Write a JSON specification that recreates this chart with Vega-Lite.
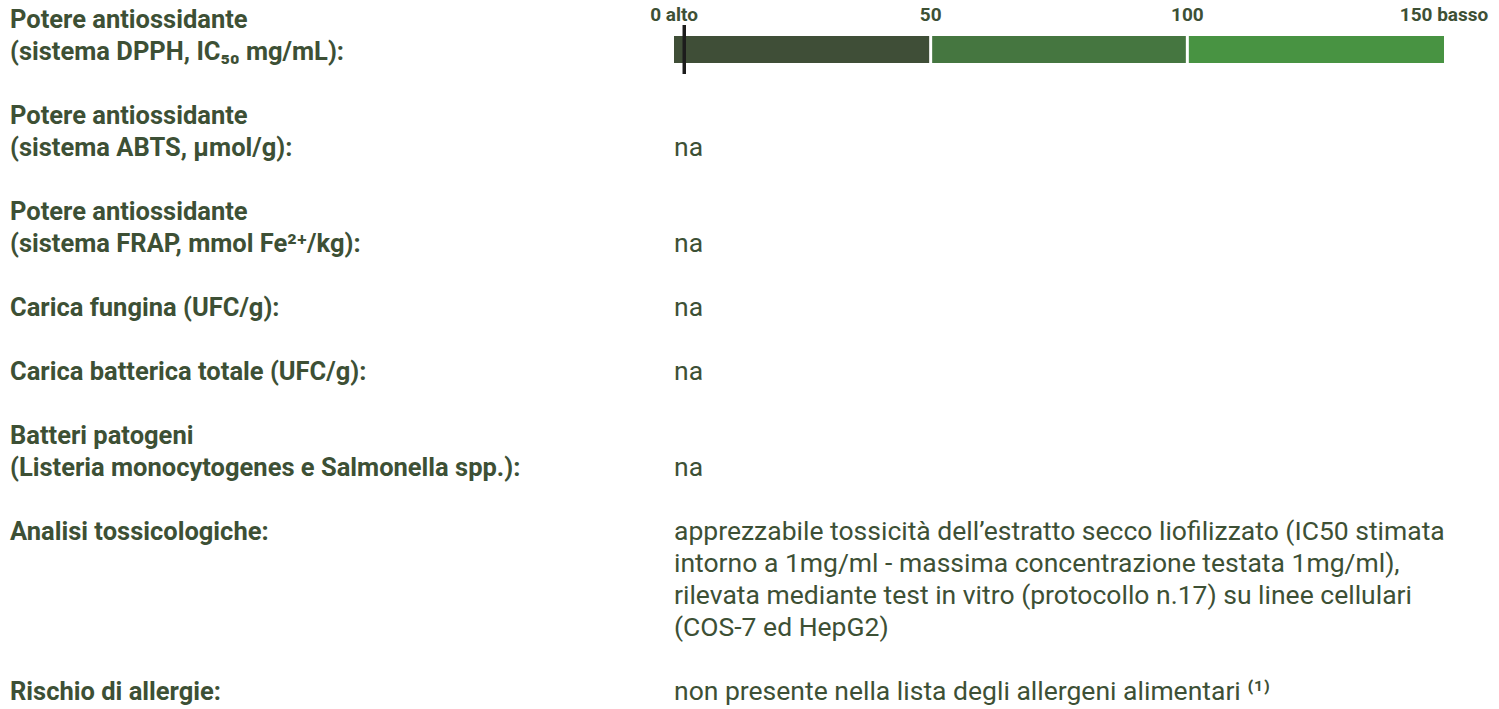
{
  "$schema": "https://vega.github.io/schema/vega-lite/v6.json",
  "width": 1499,
  "height": 709,
  "autosize": {"type": "fit", "contains": "padding"},
  "padding": 0,
  "background": "#ffffff",
  "config": {"view": {"stroke": null}},
  "datasets": {
    "rows": [
      {"col": "label", "line": 0, "text": "Potere antiossidante"},
      {"col": "label", "line": 1, "text": "(sistema DPPH, IC₅₀ mg/mL):"},
      {"col": "label", "line": 3, "text": "Potere antiossidante"},
      {"col": "label", "line": 4, "text": "(sistema ABTS, µmol/g):"},
      {"col": "label", "line": 6, "text": "Potere antiossidante"},
      {"col": "label", "line": 7, "text": "(sistema FRAP, mmol Fe²⁺/kg):"},
      {"col": "label", "line": 9, "text": "Carica fungina (UFC/g):"},
      {"col": "label", "line": 11, "text": "Carica batterica totale (UFC/g):"},
      {"col": "label", "line": 13, "text": "Batteri patogeni"},
      {"col": "label", "line": 14, "text": "(Listeria monocytogenes e Salmonella spp.):"},
      {"col": "label", "line": 16, "text": "Analisi tossicologiche:"},
      {"col": "label", "line": 21, "text": "Rischio di allergie:"},
      {"col": "value", "line": 4, "text": "na"},
      {"col": "value", "line": 7, "text": "na"},
      {"col": "value", "line": 9, "text": "na"},
      {"col": "value", "line": 11, "text": "na"},
      {"col": "value", "line": 14, "text": "na"},
      {"col": "value", "line": 16, "text": "apprezzabile tossicità dell’estratto secco liofilizzato (IC50 stimata"},
      {"col": "value", "line": 17, "text": "intorno a 1mg/ml - massima concentrazione testata 1mg/ml),"},
      {"col": "value", "line": 18, "text": "rilevata mediante test in vitro (protocollo n.17) su linee cellulari"},
      {"col": "value", "line": 19, "text": "(COS-7 ed HepG2)"},
      {"col": "value", "line": 21, "text": "non presente nella lista degli allergeni alimentari ⁽¹⁾"}
    ],
    "scaleTicks": [
      {"v": 0, "label": "0 alto"},
      {"v": 50, "label": "50"},
      {"v": 100, "label": "100"},
      {"v": 150, "label": "150 basso"}
    ],
    "bands": [
      {"from": 0, "to": 50, "band": "alto"},
      {"from": 50, "to": 100, "band": "medio"},
      {"from": 100, "to": 150, "band": "basso"}
    ],
    "measure": [{"parametro": "DPPH IC50", "valore": 2}]
  },
  "layer": [
    {
      "data": {"name": "bands"},
      "mark": {"type": "rule", "strokeWidth": 27, "strokeCap": "butt", "yOffset": -2.5},
      "encoding": {
        "x": {"field": "from", "type": "quantitative", "scale": {"domain": [0, 150], "range": [674, 1444], "nice": false, "zero": false}, "axis": null},
        "x2": {"field": "to"},
        "y": {"datum": 1, "type": "quantitative", "scale": {"domain": [0, 21], "range": [20, 692], "nice": false, "zero": false}, "axis": null},
        "color": {"field": "band", "type": "nominal", "scale": {"domain": ["alto", "medio", "basso"], "range": ["#3f4e37", "#457640", "#489342"]}, "legend": null}
      }
    },
    {
      "data": {"name": "scaleTicks"},
      "transform": [{"filter": "datum.v > 0 && datum.v < 150"}],
      "mark": {"type": "tick", "orient": "vertical", "color": "#ffffff", "size": 28, "thickness": 3, "opacity": 1, "yOffset": -2.5},
      "encoding": {
        "x": {"field": "v", "type": "quantitative", "scale": {"domain": [0, 150], "range": [674, 1444], "nice": false, "zero": false}, "axis": null},
        "y": {"datum": 1, "type": "quantitative", "axis": null}
      }
    },
    {
      "data": {"name": "measure"},
      "mark": {"type": "tick", "orient": "vertical", "color": "#1c1c1c", "size": 49, "thickness": 3.5, "opacity": 1, "yOffset": -2.5},
      "encoding": {
        "x": {"field": "valore", "type": "quantitative", "scale": {"domain": [0, 150], "range": [674, 1444], "nice": false, "zero": false}, "axis": null},
        "y": {"datum": 1, "type": "quantitative", "axis": null}
      }
    },
    {
      "data": {"name": "scaleTicks"},
      "mark": {"type": "text", "font": "Roboto", "fontWeight": "bold", "fontSize": 19, "color": "#3d5035", "align": "center", "baseline": "middle", "yOffset": -5},
      "encoding": {
        "x": {"field": "v", "type": "quantitative", "scale": {"domain": [0, 150], "range": [674, 1444], "nice": false, "zero": false}, "axis": null},
        "y": {"datum": 0, "type": "quantitative", "axis": null},
        "text": {"field": "label"}
      }
    },
    {
      "data": {"name": "rows"},
      "transform": [{"filter": "datum.col == 'label'"}],
      "mark": {"type": "text", "font": "Roboto", "fontWeight": "bold", "fontSize": 25.5, "color": "#3d5035", "align": "left", "baseline": "middle"},
      "encoding": {
        "x": {"field": "col", "type": "nominal", "scale": {"type": "point", "domain": ["label", "value"], "range": [10, 674], "padding": 0}, "axis": null},
        "y": {"field": "line", "type": "quantitative", "axis": null},
        "text": {"field": "text"}
      }
    },
    {
      "data": {"name": "rows"},
      "transform": [{"filter": "datum.col == 'value'"}],
      "mark": {"type": "text", "font": "Roboto", "fontWeight": "normal", "fontSize": 26.5, "color": "#3d5035", "align": "left", "baseline": "middle"},
      "encoding": {
        "x": {"field": "col", "type": "nominal", "scale": {"type": "point", "domain": ["label", "value"], "range": [10, 674], "padding": 0}, "axis": null},
        "y": {"field": "line", "type": "quantitative", "axis": null},
        "text": {"field": "text"}
      }
    }
  ],
  "resolve": {"scale": {"x": "independent"}}
}
